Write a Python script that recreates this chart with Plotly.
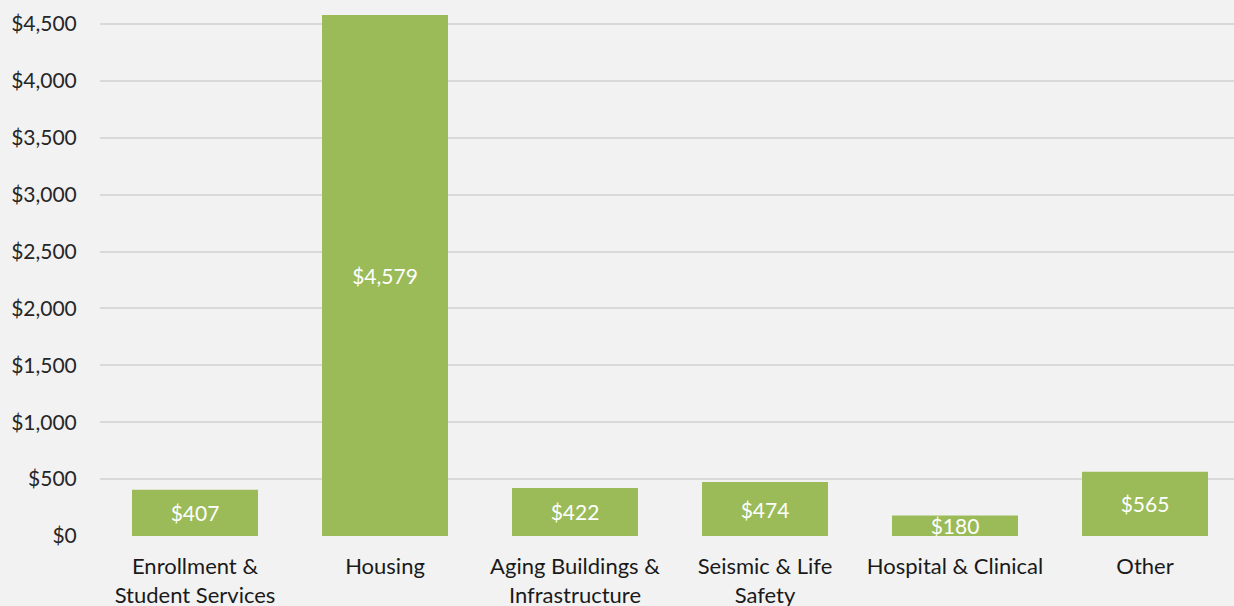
import plotly.graph_objects as go

categories = ["Enrollment &<br>Student Services", "Housing", "Aging Buildings &<br>Infrastructure",
              "Seismic & Life<br>Safety", "Hospital & Clinical", "Other"]
values = [407, 4579, 422, 474, 180, 565]
labels = ["$407", "$4,579", "$422", "$474", "$180", "$565"]
tick_vals = [0, 500, 1000, 1500, 2000, 2500, 3000, 3500, 4000, 4500]
tick_text = ["$0", "$500", "$1,000", "$1,500", "$2,000", "$2,500", "$3,000", "$3,500", "$4,000", "$4,500"]

FONT = "Lato"
SIZE = 21

fig = go.Figure(go.Bar(
    x=list(range(len(categories))), y=values, text=labels,
    textposition="inside", insidetextanchor="middle",
    textfont=dict(color="white", size=SIZE, family=FONT),
    marker=dict(color="#9bbb59", line=dict(width=0)),
    width=0.663, cliponaxis=False,
))

fig.update_layout(
    width=1234, height=606,
    margin=dict(l=100, r=0, t=0, b=70),
    paper_bgcolor="#f2f2f2", plot_bgcolor="#f2f2f2",
    showlegend=False,
    uniformtext=dict(minsize=SIZE, mode="show"),
    font=dict(family=FONT, size=SIZE, color="#262626"),
)
fig.update_xaxes(
    tickvals=list(range(len(categories))), ticktext=categories,
    range=[-0.5, 1134 / 190 - 0.5], showgrid=False, zeroline=False, automargin=False,
    showline=False, ticks="outside", ticklen=11, tickcolor="rgba(0,0,0,0)",
    tickfont=dict(color="#1a1a1a", size=22, family=FONT),
)
fig.update_yaxes(
    tickvals=tick_vals, ticktext=tick_text, automargin=False,
    range=[0, 536 / 512 * 4500], showgrid=True, gridcolor="#d9d9d9", gridwidth=1.5,
    zeroline=False, showline=False, ticks="outside", ticklen=18,
    tickcolor="rgba(0,0,0,0)", tickfont=dict(color="#262626", size=SIZE, family=FONT),
)

fig.write_html("out.html", config={"displayModeBar": False},
               post_script="document.body.style.margin='0';document.body.style.overflow='hidden';")
